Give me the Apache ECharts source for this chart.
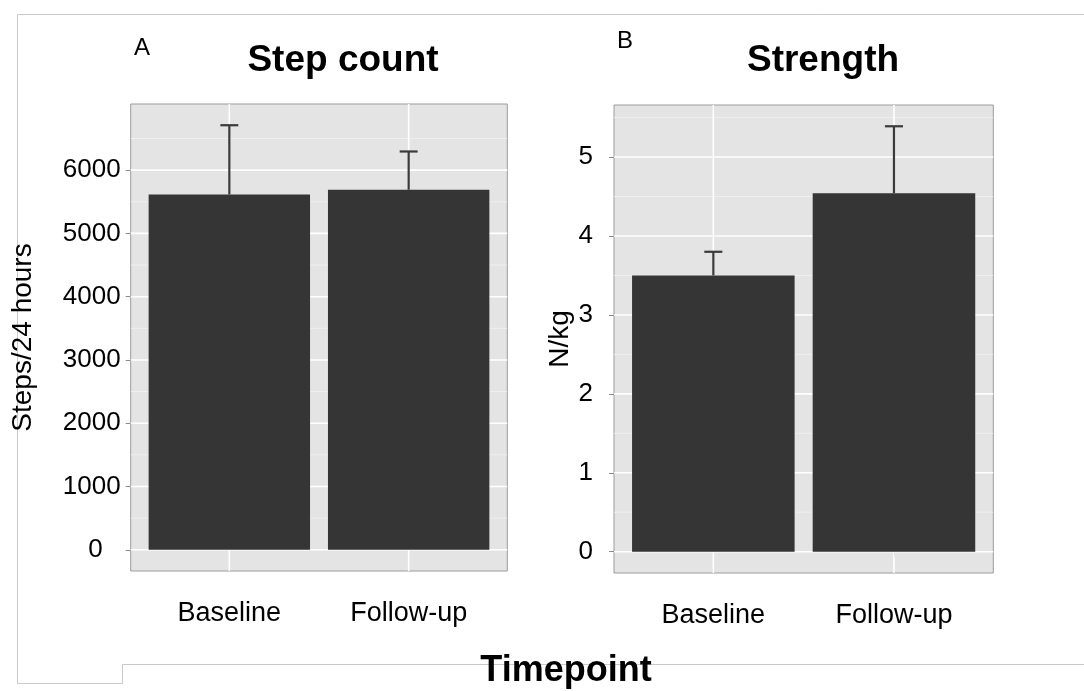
<!DOCTYPE html>
<html><head><meta charset="utf-8">
<script src="https://cdn.jsdelivr.net/npm/echarts@6/dist/echarts.min.js"></script>
<style>html,body{margin:0;padding:0;background:#fff}#c{width:1084px;height:691px}</style>
</head><body><div id="c"></div>
<script>
// ---- data ----
const categories = ['Baseline', 'Follow-up'];
const catPos = [1, 2];
const stepMean = [5615, 5690];
const stepUpper = [6710, 6295];
const strengthMean = [3.50, 4.54];
const strengthUpper = [3.80, 5.39];
const stepTicks = [0, 1000, 2000, 3000, 4000, 5000, 6000];
const stepMinor = [500, 1500, 2500, 3500, 4500, 5500, 6500];
const strengthTicks = [0, 1, 2, 3, 4, 5];
const strengthMinor = [0.5, 1.5, 2.5, 3.5, 4.5, 5.5];

const FONT = "'Liberation Sans', Arial, Helvetica, sans-serif";

function expandRange(upper) {
  const hi = Math.max(...upper);
  const pad = hi * 0.05;
  return [-pad, hi + pad];
}
const stepRange = expandRange(stepUpper);
const strengthRange = expandRange(strengthUpper);

function gridLinesSeries(idx, major, minor) {
  const data = [];
  minor.forEach(v => data.push([1, v, 0]));
  major.forEach(v => data.push([1, v, 1]));
  catPos.forEach(v => data.push([v, 0, 2]));
  return {
    type: 'custom', xAxisIndex: idx, yAxisIndex: idx, silent: true, z: 1,
    dimensions: ['x', 'y', 'k'], encode: { x: 0, y: 1 },
    data: data,
    renderItem: function (params, api) {
      const cs = params.coordSys;
      const k = api.value(2);
      if (k === 2) {
        const p = api.coord([api.value(0), 0]);
        return { type: 'line', shape: { x1: p[0], y1: cs.y, x2: p[0], y2: cs.y + cs.height },
          style: { stroke: '#ffffff', lineWidth: 1.6 } };
      }
      const p = api.coord([1, api.value(1)]);
      return { type: 'line', shape: { x1: cs.x, y1: p[1], x2: cs.x + cs.width, y2: p[1] },
        style: { stroke: k === 1 ? '#ffffff' : '#f1f1f1', lineWidth: k === 1 ? 1.6 : 0.8 } };
    }
  };
}

function barSeries(idx, means) {
  return {
    type: 'custom', xAxisIndex: idx, yAxisIndex: idx, z: 3,
    encode: { x: 0, y: 1 },
    data: means.map((m, i) => [catPos[i], m]),
    renderItem: function (params, api) {
      const x = api.value(0), y = api.value(1);
      const p1 = api.coord([x - 0.45, y]);
      const p2 = api.coord([x + 0.45, 0]);
      return { type: 'rect', shape: { x: p1[0], y: p1[1], width: p2[0] - p1[0], height: p2[1] - p1[1] },
        style: { fill: '#353535' } };
    }
  };
}

function errSeries(idx, means, upper) {
  return {
    type: 'custom', xAxisIndex: idx, yAxisIndex: idx, z: 4,
    encode: { x: 0, y: [1, 2] },
    data: means.map((m, i) => [catPos[i], m, upper[i]]),
    renderItem: function (params, api) {
      const x = api.value(0), m = api.value(1), u = api.value(2);
      const pm = api.coord([x, m]), pu = api.coord([x, u]);
      const cl = api.coord([x - 0.05, u]), cr = api.coord([x + 0.05, u]);
      const st = { stroke: '#3a3a3a', lineWidth: 2.2 };
      return { type: 'group', children: [
        { type: 'line', shape: { x1: pm[0], y1: pm[1], x2: pu[0], y2: pu[1] }, style: st },
        { type: 'line', shape: { x1: cl[0], y1: cl[1], x2: cr[0], y2: cr[1] }, style: st }
      ] };
    }
  };
}

function xAxis(idx) {
  return {
    type: 'value', gridIndex: idx, min: 0.45, max: 2.55,
    axisLine: { show: false },
    axisTick: { show: true, customValues: catPos, length: 5, lineStyle: { color: '#8a8a8a', width: 1 } },
    axisLabel: { customValues: catPos, formatter: v => categories[Math.round(v) - 1],
      fontSize: 27, color: '#000', fontFamily: FONT, margin: 29 },
    splitLine: { show: false }
  };
}

const option = {
  animation: false,
  backgroundColor: '#ffffff',
  grid: [
    { left: 130.7, top: 104, width: 376.6, height: 467, show: true,
      backgroundColor: '#e4e4e4', borderColor: '#9c9c9c', borderWidth: 1 },
    { left: 614, top: 105, width: 379.3, height: 468, show: true,
      backgroundColor: '#e4e4e4', borderColor: '#9c9c9c', borderWidth: 1 }
  ],
  xAxis: [xAxis(0), xAxis(1)],
  yAxis: [
    { type: 'value', gridIndex: 0, min: stepRange[0], max: stepRange[1],
      axisLine: { show: false },
      axisTick: { show: true, customValues: stepTicks, length: 5, lineStyle: { color: '#8a8a8a', width: 1 } },
      axisLabel: { customValues: stepTicks, fontSize: 26, color: '#000', fontFamily: FONT, margin: 10,
        formatter: v => v === 0 ? '{z|0}' : String(v),
        rich: { z: { fontSize: 26, color: '#000', fontFamily: FONT, padding: [0, 18, 0, 0] } } },
      splitLine: { show: false },
      name: 'Steps/24 hours', nameLocation: 'middle', nameRotate: 90, nameGap: 93,
      nameTextStyle: { fontSize: 28, color: '#000', fontFamily: FONT } },
    { type: 'value', gridIndex: 1, min: strengthRange[0], max: strengthRange[1],
      axisLine: { show: false },
      axisTick: { show: true, customValues: strengthTicks, length: 5, lineStyle: { color: '#8a8a8a', width: 1 } },
      axisLabel: { customValues: strengthTicks, fontSize: 26, color: '#000', fontFamily: FONT, margin: 21 },
      splitLine: { show: false },
      name: 'N/kg', nameLocation: 'middle', nameRotate: 90, nameGap: 31,
      nameTextStyle: { fontSize: 28, color: '#000', fontFamily: FONT } }
  ],
  graphic: [
    { type: 'polyline', silent: true, z: 0,
      shape: { points: [[1084, 14.5], [17.5, 14.5], [17.5, 683.5], [122.5, 683.5], [122.5, 664.5], [1084, 664.5]] },
      style: { stroke: '#c9c9c9', lineWidth: 1, fill: null } },
    { type: 'text', x: 343, y: 61, style: { text: 'Step count', font: 'bold 37px ' + FONT, fill: '#000',
      align: 'center', verticalAlign: 'middle', textAlign: 'center', textVerticalAlign: 'middle' } },
    { type: 'text', x: 823, y: 61, style: { text: 'Strength', font: 'bold 37px ' + FONT, fill: '#000',
      align: 'center', verticalAlign: 'middle', textAlign: 'center', textVerticalAlign: 'middle' } },
    { type: 'text', x: 134, y: 48, style: { text: 'A', font: '24px ' + FONT, fill: '#000',
      align: 'left', verticalAlign: 'middle', textAlign: 'left', textVerticalAlign: 'middle' } },
    { type: 'text', x: 617, y: 41, style: { text: 'B', font: '24px ' + FONT, fill: '#000',
      align: 'left', verticalAlign: 'middle', textAlign: 'left', textVerticalAlign: 'middle' } },
    { type: 'text', x: 566, y: 671, z: 10, style: { text: 'Timepoint', font: 'bold 36px ' + FONT, fill: '#000',
      align: 'center', verticalAlign: 'middle', textAlign: 'center', textVerticalAlign: 'middle' } }
  ],
  series: [
    gridLinesSeries(0, stepTicks, stepMinor),
    gridLinesSeries(1, strengthTicks, strengthMinor),
    barSeries(0, stepMean),
    barSeries(1, strengthMean),
    errSeries(0, stepMean, stepUpper),
    errSeries(1, strengthMean, strengthUpper)
  ]
};

const chart = echarts.init(document.getElementById('c'), null, { renderer: 'canvas' });
chart.setOption(option);
</script>
</body></html>
